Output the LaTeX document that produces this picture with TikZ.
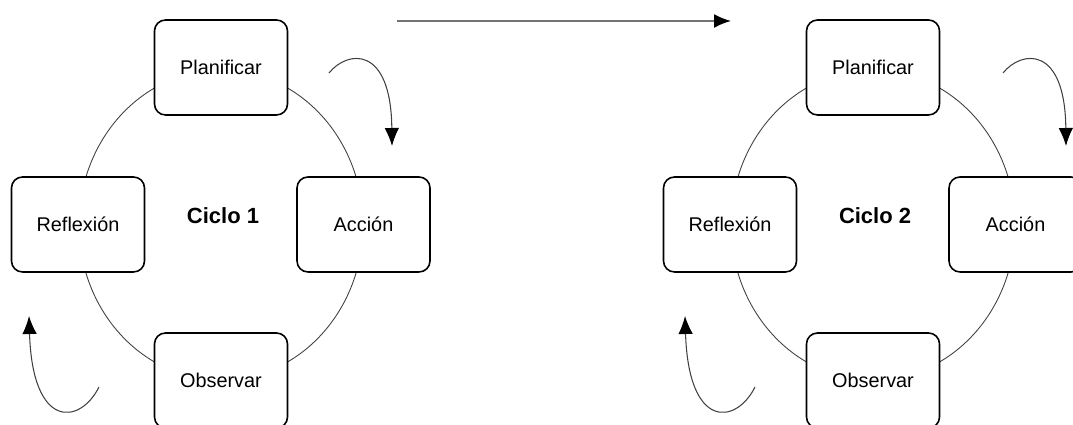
\documentclass[tikz,border=0pt]{standalone}
\usepackage{fontspec}
\setmainfont{Liberation Sans}
\usetikzlibrary{arrows.meta}

\tikzset{
  stage/.style={draw, fill=white, rounded corners=0.22cm, line width=0.9pt,
    minimum width=2.66cm, minimum height=1.9cm, font=\fontsize{11.3}{13}\selectfont},
  ring/.style={draw=black!75, line width=0.5pt},
  turn/.style={-{Latex[length=3.6mm,width=2.9mm,color=black]}, draw=black!75, line width=0.6pt},
  cyclename/.style={font=\fontsize{12.5}{14}\selectfont\bfseries}
}

\begin{document}
\begin{tikzpicture}
      \clip (0,0) rectangle (21.46, 8.5);

      % cycle 1
      \draw[ring] (4.42, 4.0) ellipse (2.84 and 3.10);
      \node[stage] (p1) at (4.42, 7.15) {Planificar};
      \node[stage] (a1) at (7.27, 4.01) {Acción};
      \node[stage] (r1) at (1.56, 4.01) {Reflexión};
      \node[stage] (o1) at (4.42, 0.89) {Observar};
      \node[cyclename] (c1) at (4.46, 4.18) {Ciclo 1};

      \coordinate (t1s) at (6.58, 7.04);
      \coordinate (t1e) at (7.84, 5.58);
      \draw[turn] (t1s) .. controls (6.95, 7.5) and (7.82, 7.6) .. (t1e);

      \coordinate (b1s) at (1.98, 0.76);
      \coordinate (b1e) at (0.58, 2.18);
      \draw[turn] (b1s) .. controls (1.6, 0.0) and (0.65, -0.1) .. (b1e);

      % from cycle 1 to cycle 2
      \coordinate (go) at (7.94, 8.08);
      \coordinate (gone) at (14.62, 8.08);
      \draw[-{Latex[length=3.4mm,width=2.8mm,color=black]}, draw=black!55, line width=1pt] (go) -- (gone);

      % cycle 2
      \begin{scope}[xshift=13.04cm]
        \draw[ring] (4.42, 4.0) ellipse (2.84 and 3.10);
        \node[stage] (p2) at (4.42, 7.15) {Planificar};
        \node[stage] (a2) at (7.27, 4.01) {Acción};
        \node[stage] (r2) at (1.56, 4.01) {Reflexión};
        \node[stage] (o2) at (4.42, 0.89) {Observar};
        \node[cyclename] (c2) at (4.46, 4.18) {Ciclo 2};

        \coordinate (t2s) at (7.02, 7.04);
        \coordinate (t2e) at (8.28, 5.58);
        \draw[turn] (t2s) .. controls (7.39, 7.5) and (8.26, 7.6) .. (t2e);

        \coordinate (b2s) at (2.06, 0.76);
        \coordinate (b2e) at (0.66, 2.18);
        \draw[turn] (b2s) .. controls (1.68, 0.0) and (0.73, -0.1) .. (b2e);
      \end{scope}
\end{tikzpicture}
\end{document}
